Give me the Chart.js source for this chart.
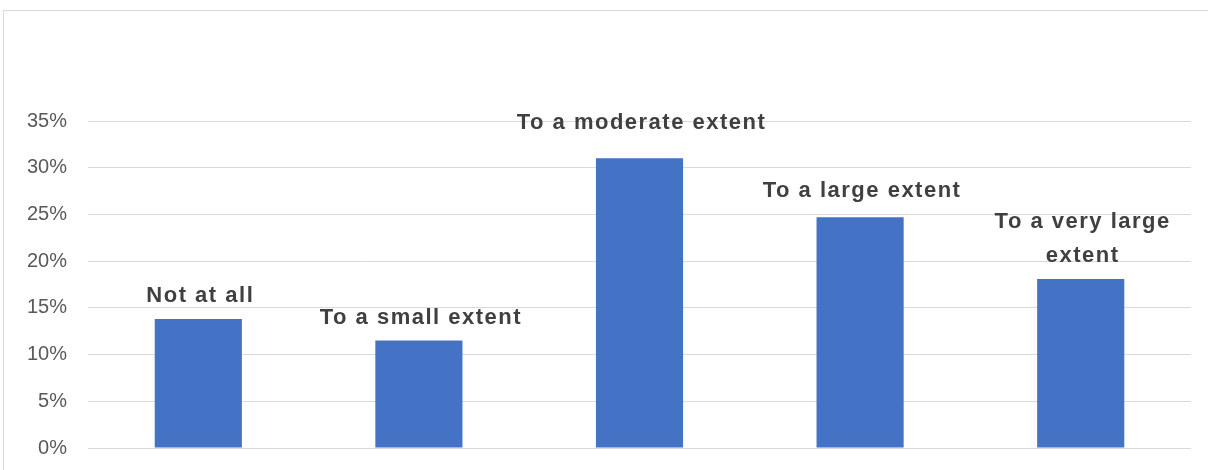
<!DOCTYPE html>
<html>
<head>
<meta charset="utf-8">
<script src="https://cdn.jsdelivr.net/npm/chart.js@4/dist/chart.umd.min.js"></script>
<style>
  html, body { margin: 0; padding: 0; background: #fff; }
  #wrap { position: relative; width: 1208px; height: 470px; overflow: hidden; }
  #frame {
    position: absolute; left: 3px; top: 10px; width: 1300px; height: 600px;
    border: 1px solid #d9d9d9; box-sizing: border-box;
  }
  #extentChart { position: absolute; left: 0; top: 0; }
</style>
</head>
<body>
<div id="wrap">
  <div id="frame"></div>
  <canvas id="extentChart" width="1208" height="470"></canvas>
</div>
<script>
// Answer categories (last one wraps onto two lines)
const categories = ['Not at all', 'To a small extent', 'To a moderate extent', 'To a large extent', ['To a very large', 'extent']];

// Share of respondents, percent
const shares = [13.8, 11.5, 31.0, 24.7, 18.1];

// Y axis ticks in percent
const yTicks = [0, 5, 10, 15, 20, 25, 30, 35];

// Gap between bar top and label baseline, px
const labelGaps = [17, 17, 29, 20, 17];

// Draw the category name above each bar
const barLabels = {
    id: 'barLabels',
    afterDatasetsDraw(chart) {
        const ctx = chart.ctx;
        const meta = chart.getDatasetMeta(0);
        ctx.save();
        ctx.font = 'bold 22px "Liberation Sans", Arial, sans-serif';
        ctx.letterSpacing = '1.5px';
        ctx.fillStyle = '#404040';
        ctx.textAlign = 'center';
        ctx.textBaseline = 'alphabetic';
        meta.data.forEach((bar, i) => {
            const lines = Array.isArray(categories[i]) ? categories[i] : [categories[i]];
            let y = bar.y - labelGaps[i];
            for (let j = lines.length - 1; j >= 0; j--) {
                ctx.fillText(lines[j], bar.x + 2, y);
                y -= 34;
            }
        });
        ctx.restore();
    }
};

const ctx = document.getElementById('extentChart').getContext('2d');
const extentChart = new Chart(ctx, {
    type: 'bar',
    data: {
        labels: categories,
        datasets: [{
            data: shares,
            backgroundColor: '#4472C4',
            borderWidth: 0,
            categoryPercentage: 1,
            barPercentage: 0.395
        }]
    },
    options: {
        responsive: false,
        animation: false,
        layout: {
            padding: { top: 121, bottom: 22, left: 0, right: 17 }
        },
        scales: {
            x: {
                display: false
            },
            y: {
                min: yTicks[0],
                max: yTicks[yTicks.length - 1],
                afterFit(scale) {
                    scale.width = 88;
                    // tick padding should not push the plot area up
                    scale.paddingTop = 12;
                    scale.paddingBottom = 12;
                },
                afterBuildTicks(scale) {
                    scale.ticks = yTicks.map(v => ({ value: v }));
                },
                border: { display: false },
                grid: {
                    color: '#d9d9d9',
                    lineWidth: 1,
                    drawTicks: false
                },
                ticks: {
                    padding: 21,
                    color: '#595959',
                    font: { family: '"Liberation Sans", Arial, sans-serif', size: 20 },
                    callback: v => v + '%'
                }
            }
        },
        plugins: {
            legend: { display: false },
            tooltip: { enabled: false }
        }
    },
    plugins: [barLabels]
});
</script>
</body>
</html>
